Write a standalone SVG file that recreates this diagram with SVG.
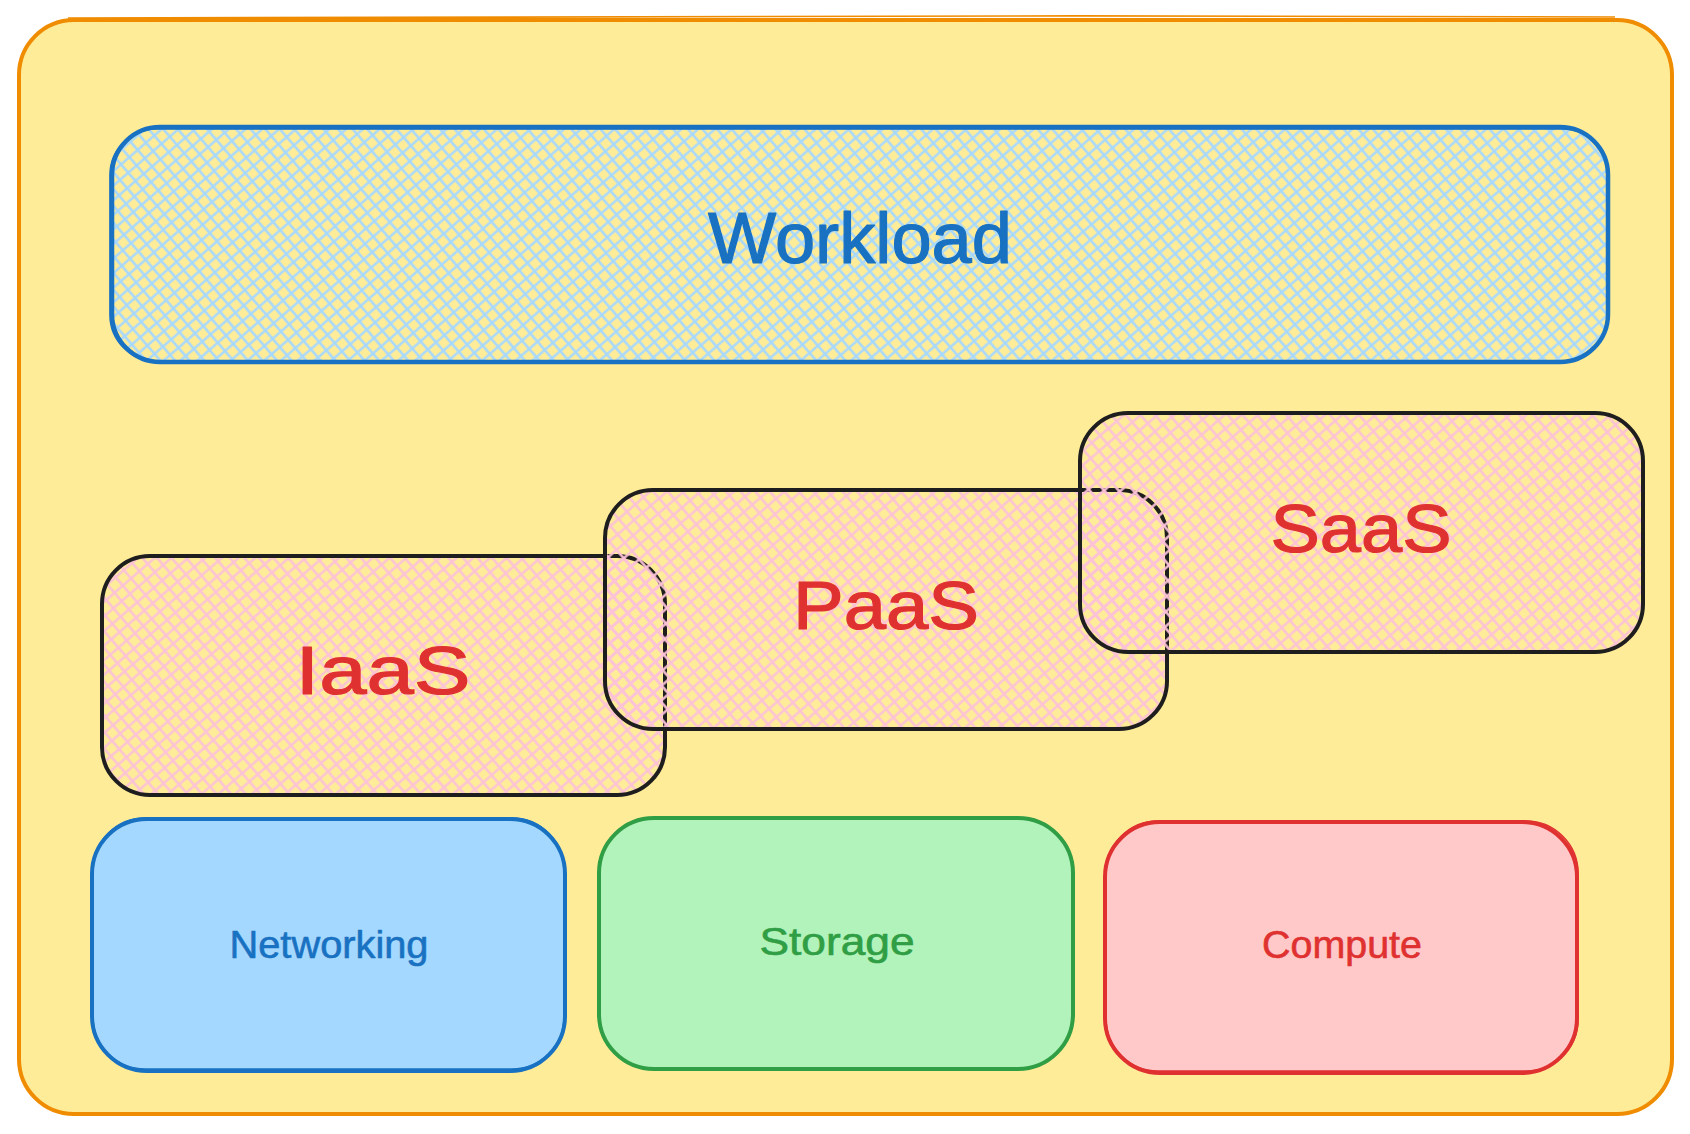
<svg xmlns="http://www.w3.org/2000/svg" width="1690" height="1134" viewBox="0 0 1690 1134">
  <defs>
    <pattern id="hatchBlue" width="11" height="11" patternUnits="userSpaceOnUse" patternTransform="rotate(49)">
      <path d="M0 5.5H11M5.5 0V11" stroke="#a5d8ff" stroke-width="2.4" fill="none"/>
    </pattern>
    <pattern id="hatchPink" width="11" height="11" patternUnits="userSpaceOnUse" patternTransform="rotate(49)">
      <path d="M0 5.5H11M5.5 0V11" stroke="#fcc2d7" stroke-width="2.4" fill="none"/>
    </pattern>
    <style>
      .lbl { font-family: "Liberation Sans", Arial, sans-serif; text-anchor: middle; stroke-linejoin: round; }
      .big { font-size: 68px; fill: #e03131; stroke: #e03131; stroke-width: 1.2; }
      .small { font-size: 38px; stroke-width: 0.6; }
      .sketch { fill: none; stroke-width: 1.6; }
    </style>
  </defs>
  <rect width="1690" height="1134" fill="#ffffff"/>

  <g id="container">
    <rect x="19" y="20" width="1653" height="1094" rx="55" fill="#ffec99" stroke="#f08c00" stroke-width="4"/>
    <path class="sketch" d="M68 18 C500 16 1100 15 1615 17" stroke="#f08c00" stroke-width="2.2"/>
  </g>

  <g id="workload">
    <rect x="112" y="127" width="1496" height="235" rx="48" fill="url(#hatchBlue)" stroke="#1971c2" stroke-width="4.5"/>
    <rect class="sketch" x="110" y="129" width="1498" height="232" rx="46" stroke="#1971c2"/>
    <text class="lbl" x="860" y="263" font-size="72" fill="#1971c2" stroke="#1971c2" stroke-width="1.2" textLength="304" lengthAdjust="spacingAndGlyphs">Workload</text>
  </g>

  <g id="iaas">
    <rect x="102" y="556" width="563" height="239" rx="48" fill="url(#hatchPink)" stroke="#1e1e1e" stroke-width="4"/>
    <text class="lbl big" x="383" y="694" textLength="175" lengthAdjust="spacingAndGlyphs">IaaS</text>
  </g>

  <g id="paas">
    <rect x="605" y="490" width="562" height="239" rx="48" fill="url(#hatchPink)" stroke="#1e1e1e" stroke-width="4"/>
    <text class="lbl big" x="886" y="629" textLength="186" lengthAdjust="spacingAndGlyphs">PaaS</text>
  </g>

  <g id="saas">
    <rect x="1080" y="413" width="563" height="239" rx="48" fill="url(#hatchPink)" stroke="#1e1e1e" stroke-width="4"/>
    <text class="lbl big" x="1361" y="552" textLength="181" lengthAdjust="spacingAndGlyphs">SaaS</text>
  </g>

  <g id="networking">
    <rect x="92" y="819" width="473" height="252" rx="55" fill="#a5d8ff" stroke="#1971c2" stroke-width="4"/>
    <rect class="sketch" x="93" y="818" width="471" height="251" rx="52" stroke="#1971c2"/>
    <text class="lbl small" x="329" y="958" fill="#1971c2" stroke="#1971c2" textLength="199" lengthAdjust="spacingAndGlyphs">Networking</text>
  </g>

  <g id="storage">
    <rect x="599" y="818" width="474" height="251" rx="55" fill="#b2f2bb" stroke="#2f9e44" stroke-width="4"/>
    <text class="lbl small" x="837" y="955" fill="#2f9e44" stroke="#2f9e44" textLength="155" lengthAdjust="spacingAndGlyphs">Storage</text>
  </g>

  <g id="compute">
    <rect x="1105" y="822" width="472" height="251" rx="55" fill="#ffc9c9" stroke="#e03131" stroke-width="4"/>
    <rect class="sketch" x="1106" y="821" width="472" height="250" rx="52" stroke="#e03131"/>
    <text class="lbl small" x="1342" y="958" fill="#e03131" stroke="#e03131" textLength="160" lengthAdjust="spacingAndGlyphs">Compute</text>
  </g>

  <g id="connectors"/>
</svg>
